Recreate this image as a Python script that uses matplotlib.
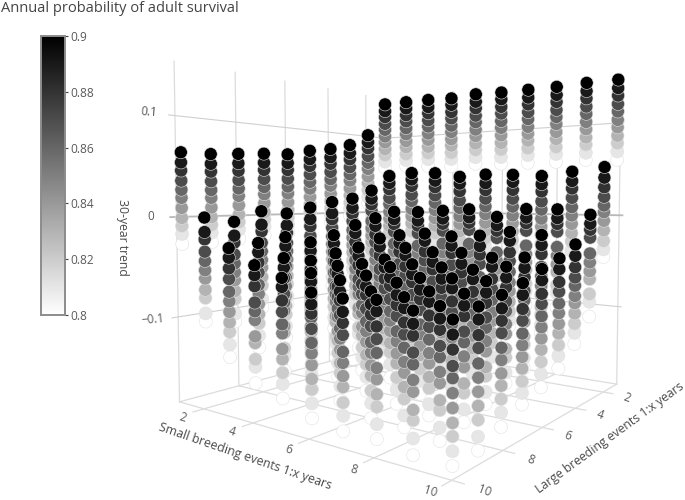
import matplotlib
matplotlib.use('Agg')
import matplotlib.pyplot as plt
import numpy as np

plt.rcParams['font.family'] = ['Open Sans', 'DejaVu Sans']

# Trend x 1000. One list per small-event interval, one row
# per large-event interval (1 to 10), survival going from 0.90 down to 0.80.
survival = [0.90, 0.89, 0.88, 0.87, 0.86, 0.85, 0.84, 0.83, 0.82, 0.81, 0.80]
intervals = [1, 2, 3, 4, 5, 6, 7, 8, 9, 10]

trend_small_1 = [
    [145, 136, 128, 119, 111, 102, 94, 85, 77, 68, 60],
    [101, 92, 84, 74, 65, 57, 47, 38, 29, 20, 12],
    [86, 76, 68, 58, 49, 41, 31, 22, 13, 5, -4],
    [79, 69, 61, 51, 42, 34, 24, 15, 6, -2, -11],
    [75, 65, 57, 47, 38, 30, 20, 11, 2, -6, -15],
    [69, 59, 51, 41, 32, 24, 14, 5, -4, -12, -21],
    [68, 58, 50, 40, 31, 23, 13, 3, -5, -13, -23],
    [66, 56, 48, 38, 29, 21, 11, 1, -7, -15, -25],
    [64, 54, 46, 36, 27, 19, 9, -1, -9, -17, -27],
    [64, 54, 46, 36, 27, 19, 9, -1, -9, -17, -27],
]
trend_small_2 = [
    [145, 137, 128, 120, 111, 103, 94, 86, 77, 69, 61],
    [47, 38, 30, 19, 11, 1, -8, -17, -26, -36, -45],
    [28, 18, 11, 3, -10, -19, -28, -36, -46, -56, -68],
    [18, 7, 0, -9, -20, -29, -38, -47, -57, -67, -78],
    [14, 1, -6, -16, -26, -35, -44, -53, -63, -74, -84],
    [8, -5, -13, -24, -33, -42, -50, -60, -69, -82, -91],
    [2, -11, -19, -30, -39, -48, -56, -66, -75, -88, -97],
    [5, -9, -16, -28, -37, -46, -54, -64, -73, -87, -96],
    [-5, -19, -26, -38, -47, -56, -64, -75, -83, -98, -106],
    [0, -14, -21, -33, -42, -51, -59, -70, -78, -93, -101],
]
trend_small_3 = [
    [145, 136, 128, 119, 111, 102, 94, 85, 77, 69, 60],
    [50, 42, 34, 23, 15, 5, -4, -13, -23, -33, -42],
    [2, -7, -13, -22, -37, -46, -55, -64, -78, -87, -99],
    [-5, -14, -24, -33, -45, -54, -63, -73, -83, -94, -105],
    [-12, -21, -31, -41, -52, -62, -71, -81, -91, -102, -114],
    [-22, -31, -41, -51, -63, -72, -82, -92, -101, -113, -125],
    [-28, -37, -47, -57, -69, -78, -88, -98, -107, -119, -131],
    [-21, -30, -40, -50, -62, -71, -81, -91, -100, -112, -124],
    [-25, -34, -44, -54, -66, -75, -85, -95, -104, -116, -128],
    [-28, -37, -47, -57, -69, -78, -88, -98, -107, -119, -131],
]
trend_small_4 = [
    [144, 136, 127, 119, 110, 102, 93, 85, 76, 68, 59],
    [49, 40, 32, 22, 13, 4, -6, -15, -24, -34, -44],
    [2, -8, -14, -23, -38, -47, -56, -65, -80, -88, -101],
    [-24, -33, -43, -57, -65, -73, -87, -94, -108, -115, -129],
    [-26, -35, -45, -60, -68, -76, -91, -97, -112, -119, -134],
    [-34, -43, -53, -68, -76, -84, -99, -105, -120, -127, -142],
    [-38, -47, -57, -72, -80, -88, -103, -109, -124, -131, -146],
    [-43, -52, -62, -77, -85, -93, -108, -114, -129, -136, -151],
    [-38, -47, -57, -72, -80, -88, -103, -109, -124, -131, -146],
    [-42, -51, -61, -76, -84, -92, -107, -113, -128, -135, -150],
]
trend_small_5 = [
    [146, 137, 129, 120, 112, 103, 95, 86, 78, 69, 61],
    [44, 36, 27, 16, 7, -3, -12, -21, -31, -41, -49],
    [4, -5, -11, -19, -34, -44, -53, -61, -76, -84, -98],
    [-21, -29, -41, -51, -61, -70, -83, -92, -104, -114, -127],
    [-35, -43, -55, -65, -76, -84, -98, -107, -119, -129, -142],
    [-45, -53, -65, -75, -86, -94, -108, -117, -129, -139, -152],
    [-47, -55, -67, -77, -88, -96, -110, -119, -131, -141, -154],
    [-46, -54, -66, -76, -87, -95, -109, -118, -130, -140, -153],
    [-50, -58, -70, -80, -91, -99, -113, -122, -134, -144, -157],
    [-51, -59, -71, -81, -92, -100, -114, -123, -135, -145, -158],
]
trend_small_6 = [
    [145, 137, 128, 120, 111, 103, 94, 85, 77, 68, 60],
    [46, 36, 28, 18, 9, 0, -10, -19, -28, -38, -46],
    [6, -3, -9, -17, -33, -42, -51, -59, -74, -82, -97],
    [-23, -33, -41, -54, -66, -75, -85, -97, -106, -118, -130],
    [-38, -48, -56, -69, -81, -90, -100, -112, -121, -133, -146],
    [-48, -58, -66, -79, -91, -100, -110, -122, -131, -143, -156],
    [-48, -58, -66, -79, -91, -100, -110, -122, -131, -143, -156],
    [-53, -63, -71, -84, -96, -105, -115, -127, -136, -148, -161],
    [-54, -64, -72, -85, -97, -106, -116, -128, -137, -149, -162],
    [-61, -71, -79, -92, -104, -113, -123, -135, -144, -156, -169],
]
trend_small_7 = [
    [145, 136, 128, 119, 111, 102, 94, 86, 77, 69, 60],
    [45, 37, 28, 18, 9, -1, -10, -19, -29, -38, -47],
    [-2, -11, -17, -25, -41, -50, -59, -67, -82, -90, -105],
    [-21, -32, -41, -51, -65, -74, -85, -94, -106, -117, -128],
    [-37, -48, -57, -67, -81, -90, -101, -110, -123, -134, -146],
    [-49, -60, -69, -79, -93, -102, -113, -122, -135, -146, -159],
    [-56, -67, -76, -86, -100, -109, -120, -129, -142, -153, -166],
    [-57, -68, -77, -87, -101, -110, -121, -130, -143, -154, -167],
    [-61, -72, -81, -91, -105, -114, -125, -134, -147, -158, -171],
    [-63, -74, -83, -93, -107, -116, -127, -136, -149, -160, -173],
]
trend_small_8 = [
    [145, 136, 128, 119, 111, 103, 94, 86, 77, 69, 60],
    [43, 34, 26, 15, 6, -4, -13, -22, -32, -41, -50],
    [7, -2, -8, -16, -32, -41, -50, -58, -73, -81, -96],
    [-16, -25, -37, -46, -57, -68, -77, -88, -98, -107, -113],
    [-40, -49, -61, -71, -82, -94, -103, -115, -125, -139, -149],
    [-49, -58, -70, -80, -91, -103, -112, -124, -134, -148, -158],
    [-54, -63, -75, -85, -96, -108, -117, -129, -139, -153, -163],
    [-62, -71, -83, -93, -104, -116, -125, -137, -147, -161, -171],
    [-63, -72, -84, -94, -105, -117, -126, -138, -148, -162, -172],
    [-61, -70, -82, -92, -103, -115, -124, -136, -146, -160, -172],
]
trend_small_9 = [
    [146, 137, 129, 120, 112, 103, 95, 86, 78, 69, 61],
    [47, 37, 29, 19, 9, 0, -9, -19, -28, -38, -46],
    [7, -2, -8, -16, -32, -41, -50, -58, -72, -80, -95],
    [-18, -28, -37, -50, -59, -69, -78, -90, -98, -108, -116],
    [-38, -48, -57, -70, -79, -91, -100, -114, -122, -135, -145],
    [-44, -54, -63, -76, -85, -97, -106, -120, -128, -142, -152],
    [-54, -64, -73, -86, -95, -107, -116, -130, -138, -152, -163],
    [-61, -71, -80, -93, -102, -114, -123, -137, -145, -159, -170],
    [-67, -77, -86, -99, -108, -120, -129, -143, -151, -165, -176],
    [-66, -76, -85, -98, -107, -119, -128, -142, -150, -164, -177],
]
trend_small_10 = [
    [146, 137, 129, 120, 112, 103, 95, 86, 78, 69, 60],
    [51, 40, 30, 20, 11, 4, -5, -15, -26, -35, -43],
    [2, -7, -13, -21, -37, -46, -55, -63, -78, -86, -101],
    [-26, -37, -48, -58, -66, -76, -83, -93, -103, -112, -123],
    [-37, -47, -59, -68, -79, -88, -98, -107, -118, -128, -140],
    [-44, -54, -66, -75, -86, -96, -106, -116, -127, -138, -150],
    [-53, -63, -75, -85, -96, -106, -116, -126, -137, -147, -157],
    [-59, -70, -80, -90, -102, -112, -123, -133, -144, -155, -167],
    [-64, -74, -86, -96, -108, -119, -130, -141, -152, -165, -176],
    [-69, -80, -91, -103, -112, -123, -134, -145, -155, -166, -177],
]
trend_tables = [trend_small_1, trend_small_2, trend_small_3, trend_small_4,
                trend_small_5, trend_small_6, trend_small_7, trend_small_8,
                trend_small_9, trend_small_10]

W, H = 685, 500
X0, X1, Y0, Y1, Z0, Z1 = 0.9, 10.05, 0.9, 10.1, -0.186, 0.153
GRID = '#dcdcdc'


def put_text(x, y, s, **kw):
    fig.text(x / W, 1 - y / H, s, ha='center', va='center', **kw)


fig = plt.figure(figsize=(W / 100, H / 100), dpi=100)
ax = fig.add_axes([((W - 500) / 2 + 58.75) / W, 11.34 / H, 500 / W, 1], projection='3d')
ax.set_xlim(X0, X1)
ax.set_ylim(Y1, Y0)
ax.set_zlim(Z0, Z1)
ax.view_init(2.7818, -53.0772)
ax.set_proj_type('persp', focal_length=0.2599)
ax.set_box_aspect((0.9923, 1, 1.0278), zoom=1.0716)
ax.set_axis_off()
ax.computed_zorder = False

# Walls and floor.
for tick in [2, 4, 6, 8, Y1]:
    ax.plot([X0, X0], [tick, tick], [Z0, Z1], color=GRID, lw=0.9, zorder=1)
for tick in [2, 4, 6, 8, X1]:
    ax.plot([tick, tick], [Y0, Y0], [Z0, Z1], color=GRID, lw=0.9, zorder=1)
for tick in [-0.1, 0.0, 0.1]:
    ax.plot([X0, X0, X1 + 0.1], [Y1 + 0.2, Y0, Y0], [tick, tick, tick],
            color='#b8b8b8' if tick == 0 else '#d0d0d0',
            lw=1.3 if tick == 0 else 0.8, zorder=1)
for tick in [2, 4, 6, 8, X1]:
    ax.plot([tick, tick], [Y0, Y1 + 0.35], [Z0, Z0], color=GRID, lw=0.9, zorder=1)
for tick in [2, 4, 6, 8, Y1]:
    ax.plot([X0, X1 + 0.3], [tick, tick], [Z0, Z0], color=GRID, lw=0.9, zorder=1)
ax.plot([X0, X1], [Y0, Y0], [Z0, Z0], color=GRID, lw=0.9, zorder=1)
ax.plot([X0, X0], [Y0, Y1], [Z0, Z0], color=GRID, lw=0.9, zorder=1)

# One point per small interval, large interval and survival level.
xs, ys, zs, cs = [], [], [], []
for small, table in zip(intervals, trend_tables):
    for large, column in zip(intervals, table):
        for level, trend in zip(survival, column):
            xs.append(small)
            ys.append(large)
            zs.append(trend / 1000)
            cs.append(level)
points = ax.scatter(xs, ys, zs, c=cs, cmap='gray_r', vmin=0.8, vmax=0.9, s=88,
                    edgecolors='#e2e2e2', linewidths=0.4, alpha=1,
                    depthshade=False, zorder=2)

# Colour bar.
cax = fig.add_axes([41 / W, 1 - 315 / H, 24 / W, 279 / H])
cbar = fig.colorbar(points, cax=cax)
cbar.set_ticks([0.8, 0.82, 0.84, 0.86, 0.88, 0.9])
cbar.set_ticklabels(['0.8', '0.82', '0.84', '0.86', '0.88', '0.9'])
cbar.ax.tick_params(labelsize=8.6, labelcolor='#5a5a5a', color='#444444',
                    length=2.5, width=0.8, pad=1.5)
cbar.outline.set_edgecolor('#8c8c8c')
cbar.outline.set_linewidth(1.4)

# Text around the box.
fig.text(1 / W, 1 - 8 / H, 'Annual probability of adult survival', ha='left',
         va='center', fontsize=10.5, color='#444444')
put_text(123, 237, '30-year trend', rotation=270, fontsize=8.8, color='#4a4a4a')
put_text(245, 456, 'Small breeding events 1:x years', rotation=-19, fontsize=8.9, color='#4a4a4a')
put_text(610, 438, 'Large breeding events 1:x years', rotation=36, fontsize=8.8, color='#4a4a4a')
for s, x, y, r in [('0.1', 149, 112, -4), ('0', 151, 217, 0), ('\u22120.1', 153, 320, 5)]:
    put_text(x, y, s, rotation=r, fontsize=8.4, color='#5a5a5a')
for s, x, y in [('2', 183, 418), ('4', 232, 432), ('6', 289, 450), ('8', 354, 470), ('10', 430, 492)]:
    put_text(x, y, s, rotation=-17, fontsize=8.4, color='#5a5a5a')
for s, x, y in [('2', 627, 398), ('4', 600, 415), ('6', 568, 436), ('8', 531, 460), ('10', 484, 491)]:
    put_text(x, y, s, rotation=-20, fontsize=8.4, color='#5a5a5a')

fig.savefig('out.png', dpi=100)
